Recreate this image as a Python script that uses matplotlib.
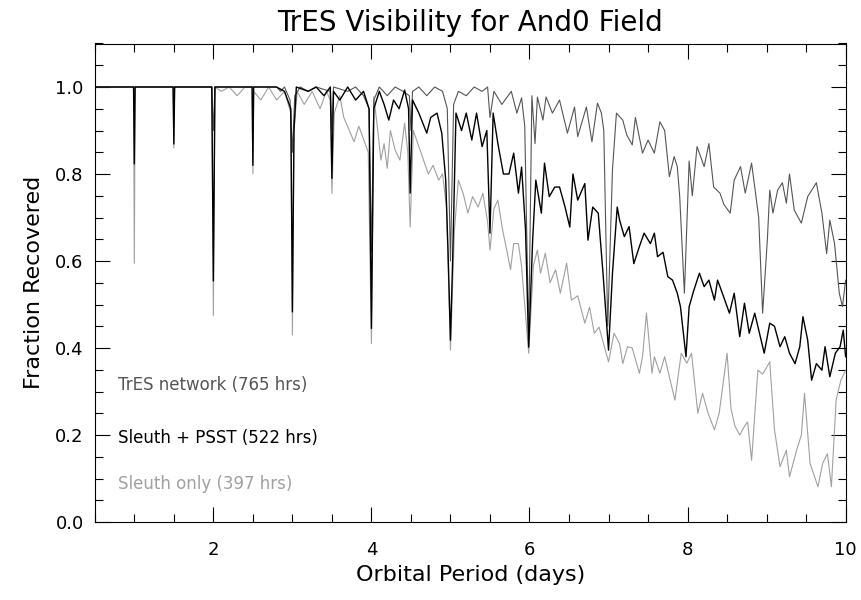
import numpy as np
import matplotlib
matplotlib.use("Agg")
import matplotlib.pyplot as plt
from matplotlib.ticker import MultipleLocator

# TrES network (765 hrs)
tres_p = [0.5, 1.98, 2.0, 2.02, 2.8, 2.85, 2.9, 2.97, 3.0, 3.03, 3.1, 3.2, 3.3, 3.48, 3.5, 3.52,
          3.7, 3.8, 3.9, 3.97, 4.0, 4.03, 4.1, 4.2, 4.3, 4.4, 4.48, 4.5, 4.52, 4.6, 4.7, 4.8, 4.9,
          4.96, 5.0, 5.04, 5.1, 5.2, 5.3, 5.4, 5.47, 5.5, 5.55, 5.65, 5.77, 5.84, 5.9, 5.94, 5.99,
          6.03, 6.07, 6.1, 6.17, 6.21, 6.29, 6.38, 6.48, 6.57, 6.61, 6.72, 6.79, 6.86, 6.91, 6.94,
          6.99, 7.05, 7.1, 7.18, 7.23, 7.3, 7.34, 7.43, 7.5, 7.58, 7.65, 7.71, 7.77, 7.83, 7.87,
          7.9, 7.96, 8.02, 8.06, 8.12, 8.21, 8.27, 8.33, 8.41, 8.46, 8.54, 8.59, 8.67, 8.73, 8.81,
          8.85, 8.9, 8.95, 9.01, 9.04, 9.08, 9.14, 9.2, 9.25, 9.29, 9.35, 9.44, 9.52, 9.63, 9.7,
          9.76, 9.8, 9.86, 9.92, 9.96, 10.0]
tres_f = [1.0, 1.0, 0.9, 1.0, 1.0, 0.99, 1.0, 0.97, 0.85, 0.98, 1.0, 0.99, 1.0, 0.99, 0.9, 1.0,
          0.99, 1.0, 0.98, 0.95, 0.62, 0.97, 1.0, 0.98, 1.0, 0.99, 0.98, 0.9, 0.99, 1.0, 0.98, 1.0, 0.99,
          0.95, 0.6, 0.96, 0.99, 0.98, 1.0, 0.99, 1.0, 0.93, 0.99, 0.96, 0.99, 0.94, 0.975, 0.91, 0.42,
          0.98, 0.87, 0.977, 0.924, 0.977, 0.94, 0.97, 0.894, 0.954, 0.886, 0.954, 0.874, 0.963, 0.94, 0.9,
          0.45, 0.81, 0.94, 0.924, 0.89, 0.867, 0.93, 0.848, 0.878, 0.848, 0.92, 0.9, 0.794, 0.84, 0.817,
          0.75, 0.526, 0.83, 0.75, 0.863, 0.817, 0.87, 0.77, 0.756, 0.73, 0.71, 0.786, 0.817, 0.756, 0.825,
          0.77, 0.7, 0.48, 0.65, 0.763, 0.71, 0.763, 0.78, 0.733, 0.80, 0.717, 0.687, 0.748, 0.78, 0.71,
          0.617, 0.694, 0.64, 0.526, 0.495, 0.556]

# Sleuth + PSST (522 hrs)
psst_p = [0.5, 0.99, 1.0, 1.01, 1.49, 1.5, 1.51, 1.98, 2.0, 2.02, 2.49, 2.5, 2.51, 2.8, 2.9, 2.98,
          3.0, 3.02, 3.05, 3.2, 3.3, 3.4, 3.48, 3.5, 3.52, 3.6, 3.7, 3.8, 3.9, 3.97, 4.0, 4.03, 4.1,
          4.16, 4.22, 4.28, 4.35, 4.42, 4.47, 4.49, 4.52, 4.6, 4.7, 4.75, 4.83, 4.89, 4.94, 4.97, 5.0,
          5.03, 5.07, 5.14, 5.2, 5.27, 5.33, 5.4, 5.46, 5.5, 5.54, 5.6, 5.67, 5.74, 5.8, 5.86, 5.9,
          5.95, 5.99, 6.04, 6.08, 6.15, 6.19, 6.25, 6.32, 6.38, 6.45, 6.51, 6.55, 6.61, 6.7, 6.74, 6.8,
          6.87, 6.93, 7.0, 7.05, 7.11, 7.14, 7.2, 7.26, 7.32, 7.39, 7.45, 7.53, 7.58, 7.62, 7.69, 7.75,
          7.81, 7.87, 7.91, 7.98, 8.02, 8.08, 8.15, 8.21, 8.27, 8.34, 8.38, 8.44, 8.53, 8.59, 8.66, 8.72,
          8.78, 8.85, 8.91, 8.97, 9.04, 9.1, 9.17, 9.23, 9.29, 9.36, 9.42, 9.46, 9.52, 9.57, 9.63, 9.7,
          9.74, 9.8, 9.87, 9.93, 9.97, 10.0]
psst_f = [1.0, 1.0, 0.823, 1.0, 1.0, 0.869, 1.0, 1.0, 0.554, 1.0, 1.0, 0.82, 1.0, 1.0, 0.99, 0.95,
          0.483, 0.9, 1.0, 0.99, 1.0, 0.98, 1.0, 0.79, 0.99, 0.97, 1.0, 0.97, 0.99, 0.95, 0.445, 0.95, 0.99,
          0.96, 0.924, 0.97, 0.95, 0.993, 0.95, 0.756, 0.97, 0.94, 0.894, 0.93, 0.94, 0.894, 0.786, 0.618, 0.418,
          0.62, 0.94, 0.90, 0.94, 0.878, 0.94, 0.863, 0.90, 0.664, 0.94, 0.87, 0.80, 0.80, 0.848, 0.756, 0.816,
          0.671, 0.402, 0.648, 0.786, 0.71, 0.825, 0.748, 0.77, 0.77, 0.724, 0.678, 0.80, 0.74, 0.778, 0.648, 0.724,
          0.71, 0.572, 0.395, 0.572, 0.724, 0.694, 0.656, 0.679, 0.594, 0.633, 0.664, 0.64, 0.664, 0.61, 0.62, 0.564,
          0.556, 0.526, 0.495, 0.38, 0.495, 0.533, 0.572, 0.541, 0.556, 0.51, 0.556, 0.526, 0.48, 0.526, 0.426, 0.503,
          0.434, 0.48, 0.434, 0.388, 0.457, 0.45, 0.403, 0.426, 0.388, 0.364, 0.403, 0.472, 0.418, 0.326, 0.364, 0.349,
          0.403, 0.334, 0.388, 0.403, 0.441, 0.38]

# Sleuth only (397 hrs)
sleuth_p = [0.5, 0.99, 1.0, 1.01, 1.49, 1.5, 1.51, 1.98, 2.0, 2.02, 2.1, 2.2, 2.3, 2.4, 2.49, 2.5,
            2.51, 2.6, 2.7, 2.8, 2.9, 2.98, 3.0, 3.02, 3.06, 3.15, 3.25, 3.35, 3.43, 3.48, 3.5, 3.53,
            3.6, 3.65, 3.72, 3.78, 3.84, 3.9, 3.96, 4.0, 4.03, 4.08, 4.12, 4.16, 4.2, 4.24, 4.3, 4.36,
            4.42, 4.46, 4.49, 4.53, 4.6, 4.66, 4.72, 4.78, 4.85, 4.9, 4.95, 5.0, 5.05, 5.1, 5.16, 5.22,
            5.28, 5.35, 5.41, 5.47, 5.5, 5.55, 5.6, 5.66, 5.72, 5.76, 5.8, 5.86, 5.9, 5.99, 6.05, 6.1,
            6.14, 6.2, 6.26, 6.33, 6.39, 6.47, 6.53, 6.61, 6.7, 6.76, 6.82, 6.88, 7.0, 7.07, 7.14, 7.18,
            7.24, 7.3, 7.39, 7.43, 7.48, 7.55, 7.58, 7.65, 7.71, 7.77, 7.84, 7.92, 7.99, 8.05, 8.13, 8.19,
            8.26, 8.34, 8.4, 8.5, 8.55, 8.6, 8.66, 8.72, 8.76, 8.81, 8.89, 8.95, 9.04, 9.1, 9.17, 9.25,
            9.29, 9.38, 9.44, 9.48, 9.55, 9.65, 9.71, 9.77, 9.82, 9.88, 9.94, 10.0]
sleuth_f = [1.0, 1.0, 0.595, 1.0, 1.0, 0.86, 1.0, 1.0, 0.474, 1.0, 0.99, 1.0, 0.98, 1.0, 1.0, 0.8,
            0.99, 0.97, 1.0, 0.97, 0.99, 0.94, 0.43, 0.9, 0.99, 0.96, 0.99, 0.95, 0.99, 0.97, 0.755, 0.94,
            0.98, 0.93, 0.9, 0.874, 0.91, 0.88, 0.85, 0.41, 0.978, 0.9, 0.832, 0.87, 0.813, 0.9, 0.855, 0.832,
            0.917, 0.85, 0.678, 0.9, 0.863, 0.832, 0.80, 0.82, 0.786, 0.80, 0.724, 0.395, 0.67, 0.786, 0.756, 0.71,
            0.748, 0.724, 0.756, 0.69, 0.625, 0.72, 0.74, 0.671, 0.618, 0.58, 0.64, 0.64, 0.587, 0.388, 0.59, 0.625,
            0.572, 0.618, 0.55, 0.58, 0.526, 0.595, 0.51, 0.52, 0.457, 0.494, 0.434, 0.448, 0.368, 0.434, 0.41, 0.364,
            0.403, 0.4, 0.342, 0.38, 0.48, 0.342, 0.38, 0.342, 0.38, 0.334, 0.28, 0.388, 0.365, 0.388, 0.25, 0.296,
            0.25, 0.212, 0.25, 0.388, 0.26, 0.22, 0.2, 0.22, 0.23, 0.142, 0.349, 0.34, 0.368, 0.212, 0.127, 0.165,
            0.104, 0.165, 0.2, 0.296, 0.135, 0.081, 0.135, 0.157, 0.081, 0.281, 0.326, 0.349]

legend_labels = ["TrES network (765 hrs)", "Sleuth + PSST (522 hrs)", "Sleuth only (397 hrs)"]

plt.rcParams["font.family"] = ["DejaVu Sans"]
plt.rcParams["font.size"] = 13

fig = plt.figure(figsize=(8.62, 6.0), dpi=100)
ax = fig.add_axes([0.110, 0.130, 0.871, 0.7975])

ax.plot(sleuth_p, sleuth_f, color="#a0a0a0", lw=0.8)
ax.plot(tres_p, tres_f, color="#555555", lw=0.8)
ax.plot(psst_p, psst_f, color="black", lw=1.0)

ax.set_xlim(0.5, 10)
ax.set_ylim(0, 1.1)
ax.xaxis.set_major_locator(MultipleLocator(2))
ax.xaxis.set_minor_locator(MultipleLocator(0.5))
ax.yaxis.set_major_locator(MultipleLocator(0.2))
ax.yaxis.set_minor_locator(MultipleLocator(0.05))
ax.yaxis.set_major_formatter(plt.FormatStrFormatter("%.1f"))
ax.tick_params(which="both", direction="in", top=True, right=True, width=0.8)
ax.tick_params(which="major", length=11)
ax.tick_params(axis="x", which="major", pad=14)
ax.tick_params(axis="y", which="major", pad=8)
ax.tick_params(which="minor", length=5.5)
for s in ax.spines.values():
    s.set_linewidth(0.8)

ax.set_title("TrES Visibility for And0 Field", fontsize=20, pad=9)
ax.set_xlabel("Orbital Period (days)", fontsize=16, labelpad=4)
ax.set_ylabel("Fraction Recovered", fontsize=16, labelpad=8)

# legend written as coloured text
colors = ["#555555", "black", "#a0a0a0"]
ypos = [0.286, 0.176, 0.079]
for lab, c, yy in zip(legend_labels, colors, ypos):
    ax.text(0.031, yy, lab, color=c, transform=ax.transAxes, fontsize=12, va="center")

plt.savefig("out.png", dpi=100)
